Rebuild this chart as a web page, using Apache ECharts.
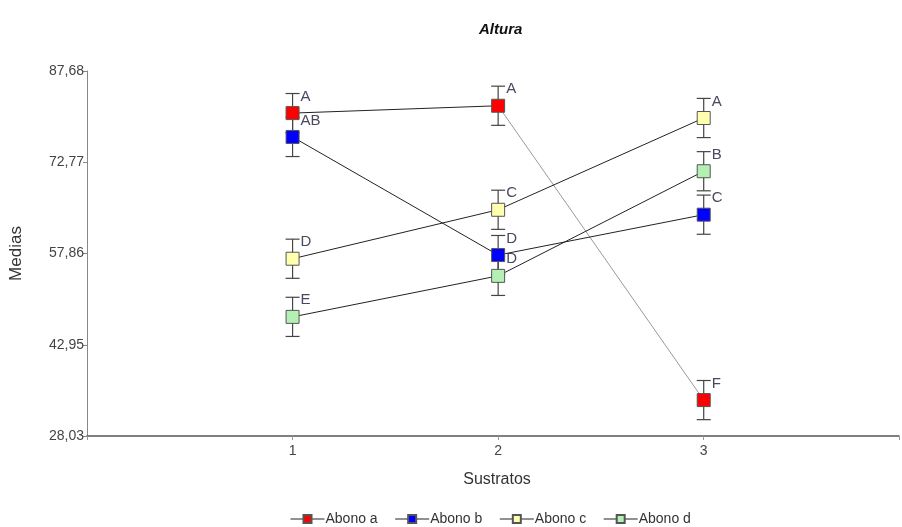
<!DOCTYPE html>
<html>
<head>
    <meta charset="utf-8" />
    <title>Altura</title>
    <style>
        html, body { margin: 0; padding: 0; background: #fff; }
        #divChart { width: 902px; height: 527px; }
    </style>
</head>
<body>
    <div id="divChart"></div>
    <script src="https://cdn.jsdelivr.net/npm/echarts@6/dist/echarts.min.js"></script>
    <script>
        // datos
        var sustratos = [1, 2, 3];
        var abonoA = [80.8, 82.0, 33.9];
        var abonoB = [76.9, 57.6, 64.2];
        var abonoC = [57.0, 65.0, 80.0];
        var abonoD = [47.5, 54.2, 71.3];
        var errA = [3.2, 3.2, 3.2];
        var errB = [3.2, 3.2, 3.2];
        var errC = [3.2, 3.2, 3.2];
        var errD = [3.2, 3.2, 3.2];
        var letrasA = ['A', 'A', 'F'];
        var letrasB = ['AB', 'D', 'C'];
        var letrasC = ['D', 'C', 'A'];
        var letrasD = ['E', 'D', 'B'];
        var yTicks = ['28,03', '42,95', '57,86', '72,77', '87,68'];
        var yMin = 28.03, yMax = 87.68, yStep = (87.68 - 28.03) / 4;

        var fuente = 'Liberation Sans, Arial, sans-serif';

        function puntos(vals) {
            return sustratos.map(function (s, i) { return [s, vals[i]]; });
        }

        // barras de error + letras
        function barras(nombre, vals, errs, letras) {
            return {
                name: nombre + ' err',
                type: 'custom',
                z: 1,
                silent: true,
                data: sustratos.map(function (s, i) { return [s, vals[i], errs[i]]; }),
                renderItem: function (params, api) {
                    var x = api.value(0), y = api.value(1), e = api.value(2);
                    var top = api.coord([x, y + e]);
                    var bot = api.coord([x, y - e]);
                    var st = { stroke: '#444', lineWidth: 1.2 };
                    return {
                        type: 'group',
                        children: [
                            { type: 'line', shape: { x1: top[0], y1: top[1], x2: bot[0], y2: bot[1] }, style: st },
                            { type: 'line', shape: { x1: top[0] - 7, y1: top[1], x2: top[0] + 7, y2: top[1] }, style: st },
                            { type: 'line', shape: { x1: bot[0] - 7, y1: bot[1], x2: bot[0] + 7, y2: bot[1] }, style: st },
                            {
                                type: 'text',
                                style: {
                                    x: top[0] + 8, y: top[1] + 3,
                                    text: letras[params.dataIndex],
                                    fill: '#4a4860',
                                    font: '15px ' + fuente,
                                    verticalAlign: 'middle'
                                }
                            }
                        ]
                    };
                }
            };
        }

        function linea(nombre, vals, color) {
            return {
                name: nombre,
                type: 'line',
                z: 3,
                data: puntos(vals),
                symbol: 'rect',
                symbolSize: 13,
                color: color,
                itemStyle: { color: color, borderColor: '#555', borderWidth: 1 },
                lineStyle: { color: '#222', width: 1 },
                emphasis: { disabled: true },
                animation: false
            };
        }

        // Abono a: el tramo 2-3 va en gris claro
        var serieA = linea('Abono a', abonoA, '#ff0000');
        serieA.data = [[sustratos[0], abonoA[0]], [sustratos[1], abonoA[1]], [2.5, '-'], [sustratos[2], abonoA[2]]];
        var tramoA = {
            name: 'tramo a',
            type: 'line',
            z: 2,
            data: [[sustratos[1], abonoA[1]], [sustratos[2], abonoA[2]]],
            showSymbol: false,
            lineStyle: { color: '#999', width: 1 },
            animation: false
        };

        var myChart = echarts.init(document.getElementById('divChart'));
        var option = {
            animation: false,
            title: {
                text: 'Altura',
                left: 474,
                top: 17,
                textStyle: { fontFamily: fuente, fontSize: 15, fontWeight: 'bold', fontStyle: 'italic', color: '#111' }
            },
            grid: { left: 86, right: 0, top: 71, bottom: 91 },
            legend: {
                left: 285,
                top: 507,
                itemWidth: 34,
                itemHeight: 10,
                itemGap: 17,
                data: ['Abono a', 'Abono b', 'Abono c', 'Abono d'],
                lineStyle: { width: 1, color: '#222' },
                textStyle: { fontFamily: fuente, fontSize: 14, color: '#333', padding: [0, 0, 0, -4] }
            },
            xAxis: {
                type: 'value',
                min: 0,
                max: 3.95,
                interval: 1,
                name: 'Sustratos',
                nameLocation: 'middle',
                nameGap: 36,
                nameTextStyle: { fontFamily: fuente, fontSize: 16, color: '#333', padding: [0, 0, 0, 8] },
                axisLine: { lineStyle: { color: '#555', width: 1.5 } },
                axisTick: { length: 4, lineStyle: { color: '#999' } },
                splitLine: { show: false },
                axisLabel: {
                    fontFamily: fuente, fontSize: 14, color: '#444', margin: 8,
                    formatter: function (v) { return (v >= 1 && v <= 3 && Math.abs(v - Math.round(v)) < 1e-6) ? String(v) : ''; }
                }
            },
            yAxis: {
                type: 'value',
                min: yMin,
                max: yMax,
                interval: yStep,
                name: 'Medias',
                nameLocation: 'middle',
                nameGap: 62,
                nameTextStyle: { fontFamily: fuente, fontSize: 17, color: '#333' },
                axisLine: { show: true, lineStyle: { color: '#888' } },
                axisTick: { show: true, length: 4, lineStyle: { color: '#888' } },
                splitLine: { show: false },
                axisLabel: {
                    fontFamily: fuente, fontSize: 14, color: '#444', margin: 3,
                    formatter: function (v) {
                        var idx = Math.round((v - yMin) / yStep);
                        if (Math.abs(v - (yMin + idx * yStep)) > 0.01) return '';
                        return yTicks[idx];
                    }
                }
            },
            series: [
                barras('Abono a', abonoA, errA, letrasA),
                barras('Abono b', abonoB, errB, letrasB),
                barras('Abono c', abonoC, errC, letrasC),
                barras('Abono d', abonoD, errD, letrasD),
                tramoA,
                serieA,
                linea('Abono b', abonoB, '#0000ff'),
                linea('Abono c', abonoC, '#ffffb0'),
                linea('Abono d', abonoD, '#b4f0b4')
            ]
        };
        myChart.setOption(option);
    </script>
</body>
</html>
